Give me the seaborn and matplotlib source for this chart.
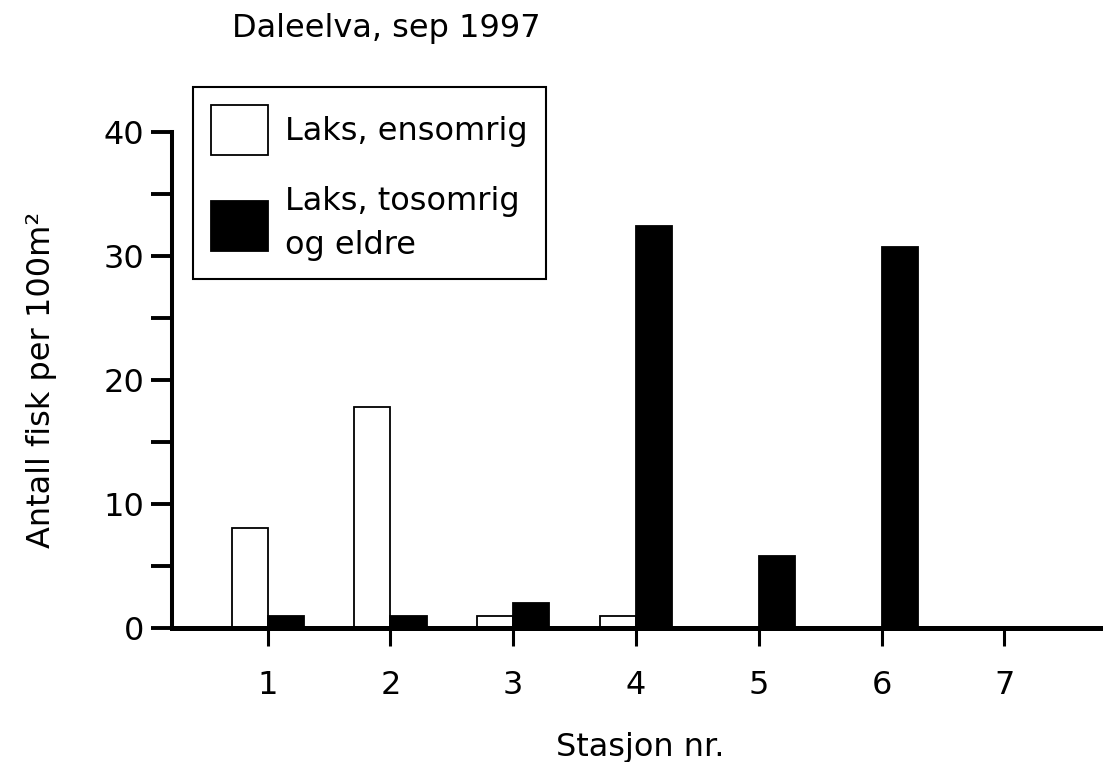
import matplotlib
matplotlib.use("Agg")
import matplotlib.pyplot as plt
from matplotlib.patches import Patch
from matplotlib.ticker import MultipleLocator
import seaborn as sns
import pandas as pd

stations = ["1", "2", "3", "4", "5", "6", "7"]
ensomrig = [8.1, 17.8, 1.0, 1.0, 0.0, 0.0, 0.0]
tosomrig = [1.0, 1.0, 2.0, 32.4, 5.8, 30.7, 0.0]
series_names = ["Laks, ensomrig", "Laks, tosomrig\nog eldre"]
colors = ["white", "black"]

df = pd.DataFrame({
    "Stasjon": stations * 2,
    "Antall": ensomrig + tosomrig,
    "Serie": [series_names[0]] * len(stations) + [series_names[1]] * len(stations),
})

sns.set_theme(style="white")
plt.rcParams["font.family"] = ["DejaVu Sans"]
FS = 23

fig = plt.figure(figsize=(11.04, 7.62), dpi=100)
ax = fig.add_axes([172 / 1104, 1 - 628 / 762, 928 / 1104, 496 / 762])

sns.barplot(data=df, x="Stasjon", y="Antall", hue="Serie", order=stations,
            hue_order=series_names, palette=colors, width=0.59,
            edgecolor="black", linewidth=1.3, saturation=1, ax=ax, legend=False)

ax.set_xlim(-0.78, 6.78)
ax.set_ylim(0, 40)
ax.yaxis.set_major_locator(MultipleLocator(10))
ax.yaxis.set_minor_locator(MultipleLocator(5))

for s in ["top", "right"]:
    ax.spines[s].set_visible(False)
ax.spines["left"].set_linewidth(2.9)
ax.spines["bottom"].set_linewidth(3.6)
ax.spines["left"].set_color("black")
ax.spines["bottom"].set_color("black")

ax.tick_params(axis="y", which="both", direction="out", length=15, width=2.8,
               color="black", left=True, labelsize=FS, pad=5, labelcolor="black")
ax.tick_params(axis="x", which="major", direction="out", length=13, width=2.2,
               color="black", bottom=True, labelsize=FS, pad=17, labelcolor="black")

ax.set_ylabel("Antall fisk per 100m²", fontsize=FS, color="black")
ax.yaxis.set_label_coords(-0.124, 0.5)
ax.set_xlabel("Stasjon nr.", fontsize=FS, color="black")
ax.xaxis.set_label_coords(0.505, -0.258)
ax.xaxis.label.set_va("baseline")

fig.text(232 / 1104, 1 - 37 / 762, "Daleelva, sep 1997", fontsize=FS,
         ha="left", va="baseline", color="black")

handles = [Patch(facecolor=c, edgecolor="black", linewidth=1.3) for c in colors]
leg = fig.legend(handles, series_names, loc="upper left",
                 bbox_to_anchor=(193 / 1104, 1 - 87 / 762),
                 fontsize=FS, frameon=True, fancybox=False, framealpha=1,
                 edgecolor="black", handlelength=1.79, handleheight=2.03,
                 handletextpad=0.55, borderpad=0.55, labelspacing=1.0,
                 borderaxespad=0, labelcolor="black")
leg.get_frame().set_linewidth(1.5)
for t in leg.get_texts():
    t.set_linespacing(1.53)

fig.savefig("out.png", dpi=100, facecolor="white")
